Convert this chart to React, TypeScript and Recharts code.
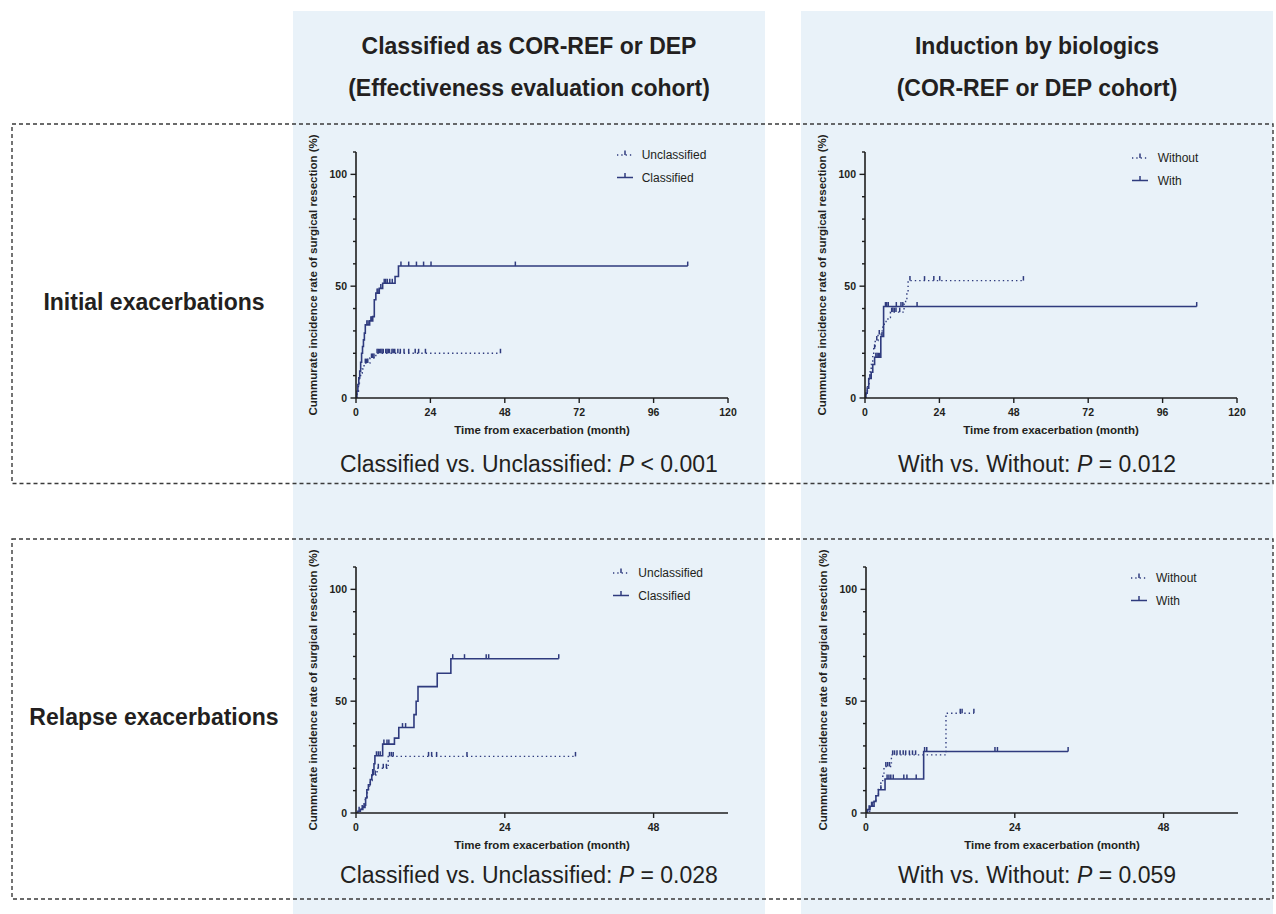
import React from 'react';
import { LineChart, Line, XAxis, YAxis, Legend, Label } from 'recharts';

const FONT = "Arial, 'Liberation Sans', Helvetica, sans-serif";
const NAVY = '#2f3b7e';
const TEXT = '#231f20';
const AXIS = '#1e1e1e';
const PANEL_BG = '#e9f2f9';

type Pt = [number, number, number?];

// ---- text ----
const columnTitles = [
  ['Classified as COR-REF or DEP', '(Effectiveness evaluation cohort)'],
  ['Induction by biologics', '(COR-REF or DEP cohort)'],
];
const rowTitles = ['Initial exacerbations', 'Relapse exacerbations'];
const groupNamesA = ['Unclassified', 'Classified'];
const groupNamesB = ['Without', 'With'];
const comparisons = [
  ['Classified vs. Unclassified: ', '<', '0.001'],
  ['With vs. Without: ', '=', '0.012'],
  ['Classified vs. Unclassified: ', '=', '0.028'],
  ['With vs. Without: ', '=', '0.059'],
];
const yAxisTitle = 'Cummurate incidence rate of surgical resection (%)';
const xAxisTitle = 'Time from exacerbation (month)';

// ---- ticks ----
const yTicks = [0, 10, 20, 30, 40, 50, 60, 70, 80, 90, 100, 110];
const yLabeled = [0, 50, 100];
const xTicksLong = [0, 24, 48, 72, 96, 120];
const xTicksShort = [0, 24, 48];

// ---- data: [month, cumulative incidence %, censored?] ----
const initialUnclassified: Pt[] = [
  [0, 0], [0.4, 3], [0.8, 6], [1.1, 9], [1.5, 11.2], [2.0, 13], [2.6, 15.6], [3.0, 15.6, 1], [3.4, 15.6, 1], [3.8, 15.6, 1],
  [4.5, 17.9], [5.0, 17.9, 1], [5.4, 17.9, 1], [5.8, 17.9, 1], [6.4, 20], [6.8, 20, 1], [7.2, 20, 1], [7.6, 20, 1], [8.0, 20, 1],
  [8.4, 20, 1], [8.8, 20, 1], [9.6, 20, 1], [10.0, 20, 1], [10.4, 20, 1], [10.8, 20, 1], [11.6, 20, 1], [12.0, 20, 1], [12.5, 20, 1],
  [13.5, 20, 1], [14.3, 20, 1], [15.5, 20, 1], [17.0, 20, 1], [19.1, 20, 1], [20.2, 20, 1], [22.4, 20, 1], [46.6, 20, 1],
];
const initialClassified: Pt[] = [
  [0, 0], [0.3, 3], [0.6, 6], [0.9, 9], [1.2, 12], [1.5, 16], [1.8, 20], [2.1, 23], [2.4, 26], [2.7, 29], [3.0, 32.7],
  [3.5, 32.7, 1], [3.9, 32.7, 1], [4.4, 34.5], [4.8, 34.5, 1], [5.1, 34.5, 1], [5.4, 36.4], [5.9, 43.9], [6.4, 46.9],
  [6.8, 46.9, 1], [7.1, 46.9, 1], [7.5, 49], [8.0, 49, 1], [8.6, 51.3], [9.1, 51.3, 1], [9.6, 51.3, 1], [10.1, 51.3, 1],
  [10.9, 51.3, 1], [11.7, 51.3, 1], [12.6, 54.3], [13.7, 59], [14.5, 59, 1], [17.0, 59, 1], [19.5, 59, 1], [21.8, 59, 1],
  [24.2, 59, 1], [51.4, 59, 1], [107, 59, 1],
];
const initialWithout: Pt[] = [
  [0, 0], [0.4, 3.2], [0.8, 6.4], [1.3, 9.5], [1.6, 11.6], [2.0, 15], [2.5, 19], [2.8, 22], [3.1, 22, 1], [3.3, 25.7],
  [3.8, 25.7, 1], [4.2, 28.4], [4.6, 28.4, 1], [5.2, 30], [5.7, 31.7], [6.2, 33], [6.8, 34.2], [7.4, 36], [8.2, 38.4],
  [8.6, 38.4, 1], [9.0, 38.4, 1], [9.5, 38.4, 1], [10.0, 38.4, 1], [11.2, 38.4, 1], [12.6, 42], [13.1, 44.5], [13.5, 47],
  [13.9, 52.5], [14.5, 52.5, 1], [19.2, 52.5, 1], [22.2, 52.5, 1], [24.1, 52.5, 1], [51.1, 52.5, 1],
];
const initialWith: Pt[] = [
  [0, 0], [0.3, 2.2], [0.7, 4.4], [1.2, 8.7], [1.6, 8.7, 1], [2.0, 11.5], [2.5, 15], [3.1, 18.2], [3.5, 18.2, 1],
  [3.9, 18.2, 1], [4.3, 18.2, 1], [4.7, 18.2, 1], [5.1, 27.5], [5.5, 27.5, 1], [6.0, 40.9], [6.6, 40.9, 1], [7.0, 40.9, 1],
  [7.5, 40.9, 1], [10.1, 40.9, 1], [11.6, 40.9, 1], [12.2, 40.9, 1], [16.8, 40.9, 1], [107, 40.9, 1],
];
const relapseUnclassified: Pt[] = [
  [0, 0], [0.3, 0.8], [0.6, 1.6], [0.9, 2.5], [1.2, 3.5], [1.5, 6], [1.8, 9], [2.0, 12], [2.3, 14.5], [2.6, 17],
  [2.8, 17, 1], [3.1, 17, 1], [3.4, 20], [3.6, 20, 1], [4.4, 20, 1], [4.9, 20, 1], [5.2, 25.3], [5.4, 25.3, 1],
  [5.7, 25.3, 1], [6.0, 25.3, 1], [11.7, 25.3, 1], [12.2, 25.3, 1], [13.0, 25.3, 1], [17.9, 25.3, 1], [35.4, 25.3, 1],
];
const relapseClassified: Pt[] = [
  [0, 0], [0.3, 0.8], [0.5, 0.8, 1], [0.7, 1.6], [1.0, 1.6, 1], [1.1, 2.5], [1.3, 2.5, 1], [1.45, 3.5], [1.55, 6.7],
  [1.75, 10.4], [2.0, 12.6], [2.3, 15], [2.55, 17], [2.7, 19.3], [2.9, 22], [3.05, 25.6], [3.3, 25.6, 1], [3.6, 25.6, 1],
  [3.9, 25.6, 1], [4.3, 30.8], [4.5, 30.8, 1], [5.0, 30.8, 1], [5.3, 30.8, 1], [6.2, 33.5], [6.9, 38.2], [7.5, 38.2, 1],
  [8.0, 38.2, 1], [9.35, 44], [9.7, 50], [10.0, 56.5], [13.1, 62.5], [15.3, 69], [15.6, 69, 1], [17.5, 69, 1],
  [21.0, 69, 1], [21.4, 69, 1], [32.7, 69, 1],
];
const relapseWithout: Pt[] = [
  [0, 0], [0.2, 0.8], [0.6, 3], [1.0, 3, 1], [1.2, 5.2], [1.6, 8.3], [2.0, 11.3], [2.4, 13.4], [2.7, 16.4], [2.9, 20.8],
  [3.2, 20.8, 1], [3.5, 20.8, 1], [3.8, 20.8, 1], [4.1, 26], [4.3, 26, 1], [4.6, 26, 1], [5.0, 26, 1], [5.5, 26, 1],
  [6.0, 26, 1], [6.4, 26, 1], [7.0, 26, 1], [7.5, 26, 1], [8.0, 26, 1], [12.9, 44.6], [15.2, 44.6, 1], [15.5, 44.6, 1],
  [17.4, 44.6, 1],
];
const relapseWith: Pt[] = [
  [0, 0], [0.2, 1.5], [0.5, 1.5, 1], [0.65, 3], [0.9, 3, 1], [1.3, 5.2], [1.6, 7.7], [2.0, 10.4], [2.4, 10.4, 1],
  [3.07, 15.2], [3.4, 15.2, 1], [3.7, 15.2, 1], [4.0, 15.2, 1], [4.4, 15.2, 1], [6.1, 15.2, 1], [6.6, 15.2, 1],
  [8.1, 15.2, 1], [9.3, 27.5], [9.45, 27.5, 1], [9.8, 27.5, 1], [20.8, 27.5, 1], [21.2, 27.5, 1], [32.6, 27.5, 1],
];

const toRows = (pts: Pt[]) => pts.map(([t, v, c]) => ({ t, v, c: c === 1 }));

function CensorDot(props: any) {
  const { cx, cy, payload, index } = props;
  if (!payload || !payload.c || cx == null || cy == null) return <g key={`n${index}`} />;
  return <line key={`c${index}`} x1={cx} x2={cx} y1={cy} y2={cy - 4.5} stroke={NAVY} strokeWidth={1.5} />;
}

function YTick(props: any) {
  const { x, y, payload } = props;
  const v = payload.value;
  const major = yLabeled.includes(v);
  return (
    <g>
      <line x1={x - (major ? 5.5 : 3)} x2={x} y1={y} y2={y} stroke={AXIS} strokeWidth={1.4} />
      {major && (
        <text x={x - 9} y={y} dy="0.36em" textAnchor="end" fontSize={10.5} fontWeight="bold" fill={TEXT} fontFamily={FONT}>
          {v}
        </text>
      )}
    </g>
  );
}

function XTick(props: any) {
  const { x, y, payload } = props;
  return (
    <g>
      <line x1={x} x2={x} y1={y} y2={y + 5} stroke={AXIS} strokeWidth={1.4} />
      <text x={x} y={y + 18} textAnchor="middle" fontSize={10.5} fontWeight="bold" fill={TEXT} fontFamily={FONT}>
        {payload.value}
      </text>
    </g>
  );
}

function YTitle(props: any) {
  const vb = props.viewBox || { x: 0, y: 0, width: 0, height: 0 };
  const x = vb.x + 13;
  const y = vb.y + vb.height / 2;
  return (
    <text x={x} y={y} transform={`rotate(-90 ${x} ${y})`} textAnchor="middle" dominantBaseline="central"
      fontSize={11.5} fontWeight="bold" fill={TEXT} fontFamily={FONT}>
      {yAxisTitle}
    </text>
  );
}

function XTitle(props: any) {
  const vb = props.viewBox || { x: 0, y: 0, width: 0, height: 0 };
  return (
    <text x={vb.x + vb.width / 2} y={vb.y + 36} textAnchor="middle" fontSize={11.5} fontWeight="bold" fill={TEXT} fontFamily={FONT}>
      {xAxisTitle}
    </text>
  );
}

function LegendBox({ names, textX }: { names: string[]; textX: number }) {
  return (
    <svg width={130} height={46} style={{ overflow: 'visible', display: 'block' }}>
      {names.map((n, i) => {
        const y = 10 + i * 22.5;
        return (
          <g key={n}>
            <line x1={2} x2={18} y1={y} y2={y} stroke={NAVY} strokeWidth={1.5} strokeDasharray={i === 0 ? '1.3 3' : undefined} />
            <line x1={10} x2={10} y1={y} y2={y - 4.5} stroke={NAVY} strokeWidth={1.5} />
            <text x={textX} y={y} dy="0.36em" fontSize={12} fill={TEXT} fontFamily={FONT}>{n}</text>
          </g>
        );
      })}
    </svg>
  );
}

type PanelProps = {
  left: number; top: number; dotted: Pt[]; solid: Pt[]; names: string[];
  xMax: number; xTicks: number[]; legendLeft: number; legendTop: number; textX: number;
};

function KMPanel({ left, top, dotted, solid, names, xMax, xTicks, legendLeft, legendTop, textX }: PanelProps) {
  return (
    <div style={{ position: 'absolute', left, top, width: 450, height: 310 }}>
      <LineChart width={450} height={310} margin={{ top: 22, right: 22, bottom: 12, left: 0 }}>
        <XAxis dataKey="t" type="number" domain={[0, xMax]} ticks={xTicks} interval={0} tickSize={0} tickMargin={0}
          tickLine={false} tick={<XTick />} axisLine={{ stroke: AXIS, strokeWidth: 1.6 }} height={30} allowDataOverflow>
          <Label content={<XTitle />} />
        </XAxis>
        <YAxis type="number" domain={[0, 110]} ticks={yTicks} interval={0} tickSize={0} tickMargin={0}
          tickLine={false} tick={<YTick />} axisLine={{ stroke: AXIS, strokeWidth: 1.6 }} width={56} allowDataOverflow>
          <Label content={<YTitle />} />
        </YAxis>
        <Legend layout="horizontal" verticalAlign="middle" align="center"
          wrapperStyle={{ left: legendLeft, top: legendTop, width: 130, height: 46 }}
          content={() => <LegendBox names={names} textX={textX} />} />
        <Line data={toRows(dotted)} dataKey="v" name={names[0]} type="stepAfter" stroke={NAVY} strokeWidth={1.4}
          strokeDasharray="1.4 3" dot={CensorDot} activeDot={false} isAnimationActive={false} />
        <Line data={toRows(solid)} dataKey="v" name={names[1]} type="stepAfter" stroke={NAVY} strokeWidth={1.6}
          dot={CensorDot} activeDot={false} isAnimationActive={false} />
      </LineChart>
    </div>
  );
}

export default function App() {
  const colCenters = [529, 1037];
  return (
    <div style={{ position: 'absolute', left: 0, top: 0, width: 1276, height: 914, background: '#ffffff', overflow: 'hidden', fontFamily: FONT }}>
      <div style={{ position: 'absolute', left: 293, top: 11, width: 472, height: 903, background: PANEL_BG }} />
      <div style={{ position: 'absolute', left: 801, top: 11, width: 472, height: 903, background: PANEL_BG }} />
      <svg width={1276} height={914} style={{ position: 'absolute', left: 0, top: 0 }}>
        <rect x={12} y={124} width={1261} height={359.5} fill="none" stroke="#3a3a3a" strokeWidth={1.4} strokeDasharray="4 3" />
        <rect x={12} y={539} width={1261} height={360} fill="none" stroke="#3a3a3a" strokeWidth={1.4} strokeDasharray="4 3" />
        {columnTitles.map((lines, i) => (
          <g key={i}>
            <text x={colCenters[i]} y={53.5} textAnchor="middle" fontSize={23} fontWeight="bold" fill={TEXT} fontFamily={FONT}>{lines[0]}</text>
            <text x={colCenters[i]} y={95.5} textAnchor="middle" fontSize={23} fontWeight="bold" fill={TEXT} fontFamily={FONT}>{lines[1]}</text>
          </g>
        ))}
        <text x={154} y={309.5} textAnchor="middle" fontSize={23} fontWeight="bold" fill={TEXT} fontFamily={FONT}>{rowTitles[0]}</text>
        <text x={154} y={725} textAnchor="middle" fontSize={23} fontWeight="bold" fill={TEXT} fontFamily={FONT}>{rowTitles[1]}</text>
        {comparisons.map((c, i) => (
          <text key={i} x={colCenters[i % 2]} y={i < 2 ? 471.7 : 882.7} textAnchor="middle" fontSize={23} fill={TEXT} fontFamily={FONT}>
            {c[0]}<tspan fontStyle="italic">P</tspan>{` ${c[1]} ${c[2]}`}
          </text>
        ))}
      </svg>
      <KMPanel left={300} top={130} dotted={initialUnclassified} solid={initialClassified} names={groupNamesA}
        xMax={120} xTicks={xTicksLong} legendLeft={315} legendTop={15} textX={26.7} />
      <KMPanel left={809.3} top={130} dotted={initialWithout} solid={initialWith} names={groupNamesB}
        xMax={120} xTicks={xTicksLong} legendLeft={320.7} legendTop={17.7} textX={27.7} />
      <KMPanel left={300} top={545} dotted={relapseUnclassified} solid={relapseClassified} names={groupNamesA}
        xMax={60} xTicks={xTicksShort} legendLeft={311} legendTop={18.3} textX={27.3} />
      <KMPanel left={810} top={545} dotted={relapseWithout} solid={relapseWith} names={groupNamesB}
        xMax={60} xTicks={xTicksShort} legendLeft={319} legendTop={22.7} textX={27} />
    </div>
  );
}
